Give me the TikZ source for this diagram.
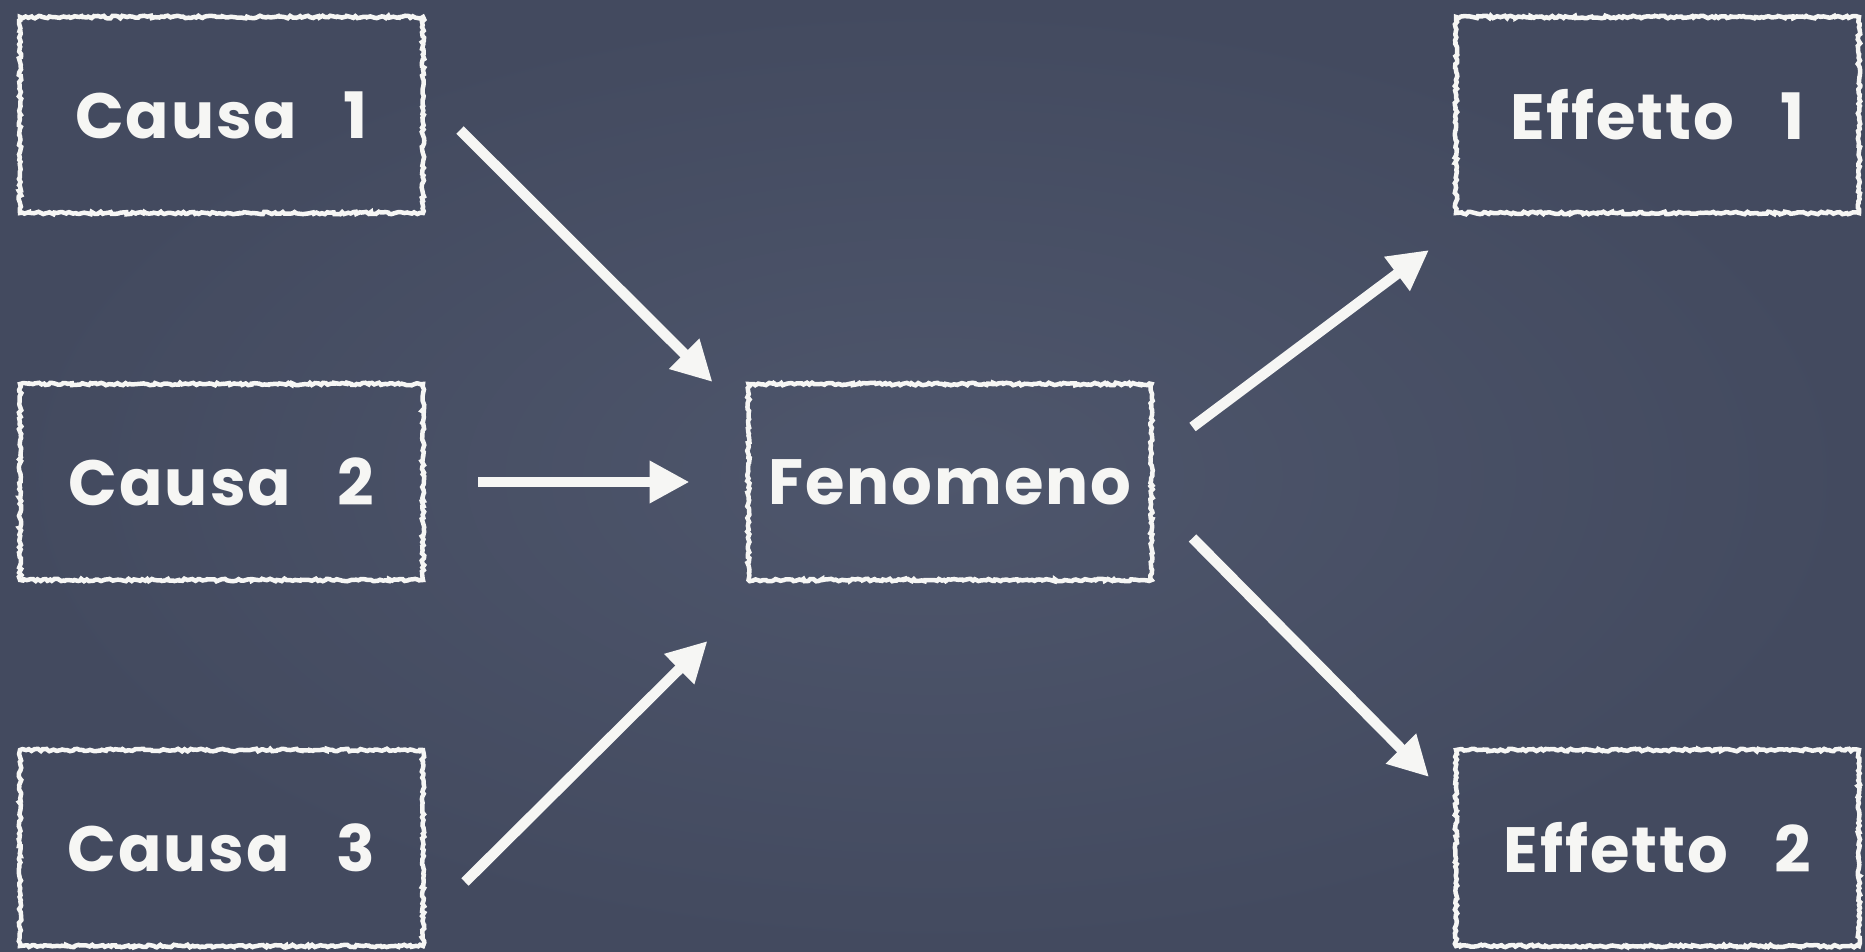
\documentclass[tikz,border=0pt]{standalone}
\usepackage{fontspec}
\setmainfont{Poppins}[LetterSpace=3,WordSpace=3]
\usetikzlibrary{arrows.meta,decorations.pathmorphing}
\definecolor{boardlight}{RGB}{78,86,108}
\definecolor{boarddark}{RGB}{67,74,95}
\definecolor{chalk}{RGB}{246,246,244}
\begin{document}
\begin{tikzpicture}[x=1pt,y=-1pt,
  chalkbox/.style={minimum width=403pt,minimum height=196pt,inner sep=0pt,outer sep=0pt,
    text=chalk,font=\bfseries\fontsize{64}{70}\selectfont,
    draw=chalk,line width=4.5pt,decorate,
    decoration={random steps,segment length=2.5pt,amplitude=1.3pt}},
  arr/.style={draw=chalk,line width=10.5pt,-{Triangle[length=40pt,width=40pt]}}]

% blackboard
\shade[inner color=boardlight,outer color=boarddark] (0,0) rectangle (1865,952);
\useasboundingbox (0,0) rectangle (1865,952);

% causes, phenomenon, effects
\node[chalkbox] (c1) at (221.5,115) {Causa 1};
\node[chalkbox] (c2) at (221.5,482) {Causa 2};
\node[chalkbox] (c3) at (221.5,848) {Causa 3};
\node[chalkbox] (fen) at (950,482) {Fenomeno};
\node[chalkbox] (e1) at (1657.5,115) {Effetto 1};
\node[chalkbox] (e2) at (1657.5,848) {Effetto 2};

% arrows
\draw[arr] ([shift={(37,15)}]c1.east) -- ([shift={(-36,-2)}]fen.north west);
\draw[arr] ([shift={(55,0)}]c2.east) -- ([shift={(-59,0)}]fen.west);
\draw[arr] ([shift={(42,34)}]c3.east) -- ([shift={(-41,61)}]fen.south west);
\draw[arr] ([shift={(41,-55)}]fen.east) -- ([shift={(-27,37)}]e1.south west);
\draw[arr] ([shift={(41,56)}]fen.east) -- ([shift={(-27,27)}]e2.north west);
\end{tikzpicture}
\end{document}
